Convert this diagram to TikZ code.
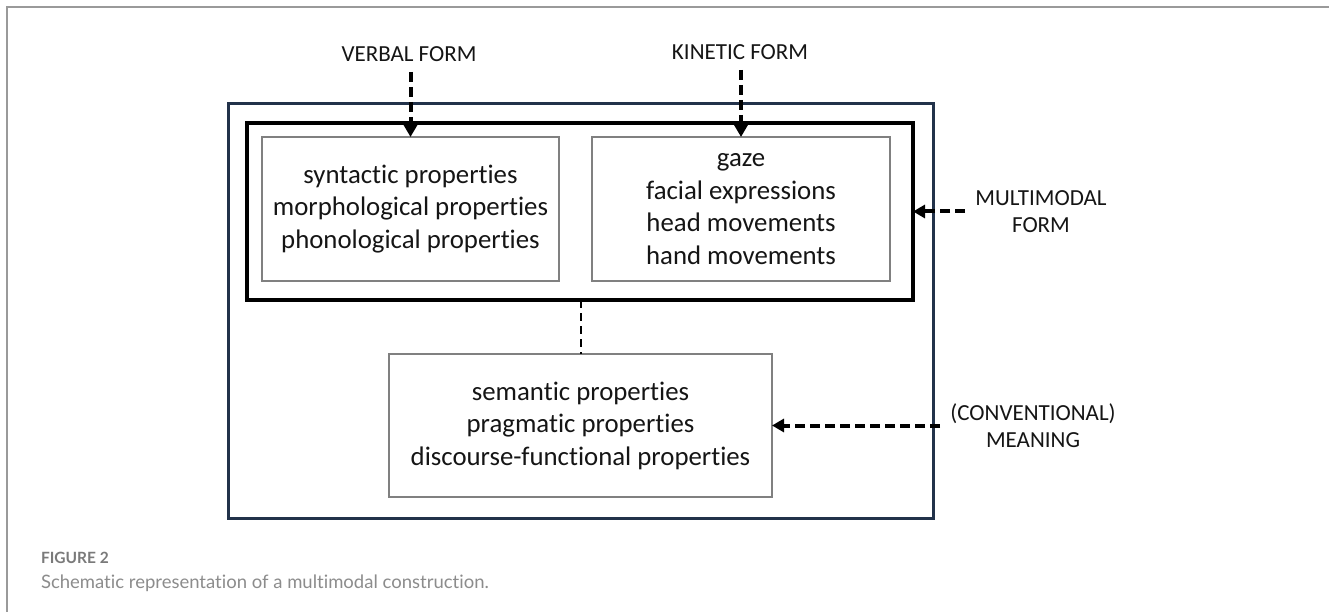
\documentclass[tikz,border=0pt]{standalone}
\usepackage{fontspec}
\setmainfont{Carlito}[Ligatures=NoCommon]
\newfontfamily\captionfont{Lato}[Ligatures=NoCommon]
\usetikzlibrary{arrows.meta}

\definecolor{framegray}{HTML}{9A9A9A}
\definecolor{navy}{HTML}{22324A}
\definecolor{boxgray}{HTML}{808080}
\definecolor{inkblack}{HTML}{151515}
\definecolor{capgray}{HTML}{8C8C8C}
\definecolor{capgraydark}{HTML}{7A7A7A}

\tikzset{
  every node/.style={inner sep=0pt, outer sep=0pt},
  outerbox/.style={draw=navy, line width=3pt},
  formbox/.style={draw=black, line width=3.5pt},
  propbox/.style={draw=boxgray, line width=1.3pt, align=center, text=inkblack,
                  font=\fontsize{26.8}{32.5}\selectfont},
  tag/.style={align=center, text=inkblack, font=\fontsize{23}{27}\selectfont},
  feed/.style={draw=black, line width=4pt, dash pattern=on 10pt off 5pt,
               -{Triangle[length=12pt,width=13pt]}},
  link/.style={draw=black, line width=2pt, dash pattern=on 8pt off 5pt},
}

\begin{document}
\begin{tikzpicture}[x=1pt,y=-1pt]
  % page area
  \path[fill=white, use as bounding box] (0,0) rectangle (1329,612);
  \draw[framegray, line width=2pt] (7,612) -- (7,7) -- (1329,7);

  % construction frame and multimodal form frame
  \node[outerbox, minimum width=705pt, minimum height=414pt] (construction) at (580.5,311) {};
  \node[formbox, minimum width=666pt, minimum height=177pt] (form) at (580,211.5) {};

  % property boxes
  \node[propbox, minimum width=297pt, minimum height=144pt] (verbalbox) at (410.5,209)
    {syntactic properties\\morphological properties\\phonological properties};
  \node[propbox, minimum width=298pt, minimum height=144pt] (kineticbox) at (741,209)
    {gaze\\facial expressions\\head movements\\hand movements};
  \node[propbox, minimum width=383pt, minimum height=143pt] (meaningbox) at (580.5,425.5)
    {semantic properties\\pragmatic properties\\discourse-functional properties};

  % outside labels
  \node[tag] (verbal) at (409,54) {VERBAL FORM};
  \node[tag] (kinetic) at (740,52) {KINETIC FORM};
  \node[tag] (multimodal) at (1041,211.5) {MULTIMODAL\\FORM};
  \node[tag] (meaning) at (1033,425.5) {(CONVENTIONAL)\\MEANING};

  % arrow tails
  \coordinate (verbalTail) at (410.5,72);
  \coordinate (kineticTail) at (741,70);
  \coordinate (multiTail) at (965,211.5);
  \coordinate (meaningTail) at (940,425.5);

  % connectors
  \draw[link] (form.south -| meaningbox.north) -- (meaningbox.north);
  \draw[feed] (verbalTail) -- (verbalbox.north);
  \draw[feed] (kineticTail) -- (kineticbox.north);
  \draw[feed] (multiTail) -- (form.east);
  \draw[feed] (meaningTail) -- (meaningbox.east);

  % caption
  \node[anchor=base west, text=capgraydark,
        font=\captionfont\bfseries\fontsize{15.5}{18}\selectfont] (figno) at (41,563) {FIGURE 2};
  \node[anchor=base west, text=capgray,
        font=\captionfont\fontsize{18.5}{22}\selectfont] (figcap) at (41,588.5)
    {Schematic representation of a multimodal construction.};
\end{tikzpicture}
\end{document}
